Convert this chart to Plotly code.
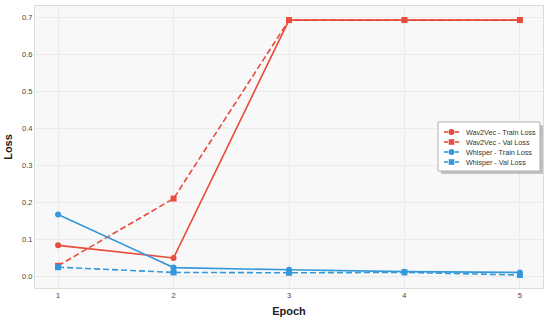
import plotly.graph_objects as go

epochs = [1, 2, 3, 4, 5]
wav2vec_train = [0.085, 0.051, 0.692, 0.692, 0.692]
wav2vec_val = [0.030, 0.211, 0.692, 0.692, 0.692]
whisper_train = [0.168, 0.025, 0.019, 0.014, 0.012]
whisper_val = [0.026, 0.012, 0.011, 0.012, 0.005]
y_ticks = [0.0, 0.1, 0.2, 0.3, 0.4, 0.5, 0.6, 0.7]

RED = "#e74c3c"
BLUE = "#3498db"
DASH = "6px,3px"

series = [
    ("Wav2Vec - Train Loss", wav2vec_train, RED, "solid", "circle"),
    ("Wav2Vec - Val Loss", wav2vec_val, RED, DASH, "square"),
    ("Whisper - Train Loss", whisper_train, BLUE, "solid", "circle"),
    ("Whisper - Val Loss", whisper_val, BLUE, DASH, "square"),
]

W, H = 550, 321
L, R, T, B = 35, 7, 6, 33
PW, PH = W - L - R, H - T - B


def fx(px):
    return (px - L) / PW


def fy(py):
    return 1 - (py - T) / PH


fig = go.Figure()
for name, vals, color, dash, sym in series:
    fig.add_trace(go.Scatter(
        x=epochs, y=vals, mode="lines+markers", name=name, showlegend=False,
        line=dict(color=color, width=1.6, dash=dash),
        marker=dict(color=color, size=6, symbol=sym),
    ))

# hand-drawn legend (compact, with drop shadow) in paper coordinates
shapes = []
annotations = []
bx0, bx1, by0, by1 = 438, 540, 122, 171
shapes.append(dict(type="rect", xref="paper", yref="paper", layer="above",
                   x0=fx(bx0 + 3), x1=fx(bx1 + 3), y0=fy(by0 + 3), y1=fy(by1 + 3),
                   fillcolor="rgba(0,0,0,0.22)", line=dict(width=0)))
shapes.append(dict(type="rect", xref="paper", yref="paper", layer="above",
                   x0=fx(bx0), x1=fx(bx1), y0=fy(by0), y1=fy(by1),
                   fillcolor="white", line=dict(color="#b0b0b0", width=1)))
row_y = [132, 142, 152, 162]
for (name, vals, color, dash, sym), ry in zip(series, row_y):
    for sx0, sx1 in ((444, 448), (455, 459)):
        shapes.append(dict(type="line", xref="paper", yref="paper", layer="above",
                           x0=fx(sx0), x1=fx(sx1), y0=fy(ry), y1=fy(ry),
                           line=dict(color=color, width=1.6)))
    r = 3 if sym == "circle" else 2.8
    shapes.append(dict(type="circle" if sym == "circle" else "rect",
                       xref="paper", yref="paper", layer="above",
                       x0=fx(451.5 - r), x1=fx(451.5 + r), y0=fy(ry + r), y1=fy(ry - r),
                       fillcolor=color, line=dict(width=0)))
    annotations.append(dict(text=name, xref="paper", yref="paper", x=fx(464), y=fy(ry),
                            xanchor="left", yanchor="middle", showarrow=False,
                            font=dict(size=7.2, color="#333")))

fig.update_layout(
    width=W, height=H,
    margin=dict(l=L, r=R, t=T, b=B),
    paper_bgcolor="white",
    plot_bgcolor="#f8f8f8",
    font=dict(family="Liberation Sans, Arial, sans-serif", size=8, color="#444"),
    showlegend=False,
    shapes=shapes,
    annotations=annotations,
)
fig.update_xaxes(
    range=[0.8, 5.2], tickvals=epochs, ticktext=[str(e) for e in epochs],
    showgrid=True, gridcolor="#ebebeb", gridwidth=1, zeroline=False,
    showline=True, linecolor="#dcdcdc", linewidth=1, mirror=True,
    title=dict(text="<b>Epoch</b>", font=dict(size=11, color="#222"), standoff=8),
    ticks="", tickfont=dict(size=7.5, color="#444"), automargin=False,
)
fig.update_yaxes(
    range=[-0.03, 0.73], tickvals=y_ticks, tickformat=".1f",
    showgrid=True, gridcolor="#ebebeb", gridwidth=1, zeroline=False,
    showline=True, linecolor="#dcdcdc", linewidth=1, mirror=True,
    title=dict(text="<b>Loss</b>", font=dict(size=11, color="#222"), standoff=7),
    ticks="", tickfont=dict(size=7.5, color="#444"), automargin=False,
)

fig.write_html("out.html", config={"displayModeBar": False},
               post_script="document.body.style.margin='0';")
